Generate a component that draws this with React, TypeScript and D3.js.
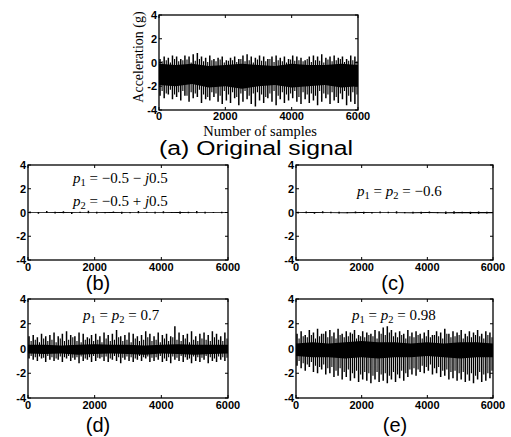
import React from "react";
import * as d3 from "d3";

// sample axis and amplitude axis ticks
const xTicks = [0, 2000, 4000, 6000];
const yTicks = [-4, -2, 0, 2, 4];
const coreSamples = [0, 500, 1000, 1500, 2000, 2500, 3000, 3500, 4000, 4500, 5000, 5500, 6000];

// (a) original signal: big spike peaks/troughs, smaller in-between spikes, dense core band
const aUp = [0.3, 0.5, 0.4, 0.6, 0.5, 0.3, 0.6, 0.5, 0.7, 0.8, 0.5, 0.4, 0.6, 0.3, 0.4, 0.5, 0.2, 0.4, 0.5, 0.3, 0.6, 0.7, 0.5, 0.4, 0.6, 0.5, 0.3, 0.5, 0.6, 0.4, 0.5, 0.3, 0.6, 0.5, 0.4, 0.2, 0.5, 0.6, 0.5, 0.7, 0.4, 0.5, 0.6, 0.4, 0.5, 0.3, 0.6, 0.5];
const aDown = [-2.8, -3.0, -2.7, -3.1, -2.9, -3.2, -2.8, -3.3, -3.0, -2.9, -3.4, -3.1, -3.2, -2.9, -3.3, -3.5, -3.2, -3.4, -3.0, -3.6, -3.3, -3.1, -3.5, -3.7, -3.2, -3.4, -3.0, -3.3, -3.6, -3.1, -3.4, -3.2, -3.0, -3.3, -3.5, -3.1, -3.4, -3.2, -3.6, -3.3, -3.0, -3.5, -3.2, -3.4, -3.1, -3.6, -3.3, -3.5];
const aMidUp = [0.1, 0.2, 0.0, 0.3, 0.1, 0.2, 0.25, 0.0, 0.15, 0.3, 0.1, 0.05, 0.2, 0.1, 0.25, 0.0, 0.15, 0.2, 0.05, 0.3, 0.1, 0.2, 0.0, 0.25, 0.15, 0.1, 0.3, 0.05, 0.2, 0.1, 0.0, 0.25, 0.15, 0.2, 0.1, 0.3, 0.05, 0.2, 0.15, 0.0, 0.25, 0.1, 0.2, 0.3, 0.05, 0.15, 0.2, 0.1];
const aMidDown = [-2.4, -2.6, -2.3, -2.7, -2.5, -2.4, -2.8, -2.5, -2.6, -2.3, -2.7, -2.9, -2.5, -2.6, -2.8, -2.4, -2.7, -2.5, -2.9, -2.6, -2.4, -2.8, -2.6, -2.5, -2.7, -2.9, -2.6, -2.4, -2.8, -2.5, -2.7, -2.6, -2.4, -2.9, -2.5, -2.7, -2.6, -2.8, -2.4, -2.6, -2.7, -2.5, -2.9, -2.6, -2.4, -2.8, -2.5, -2.7];
const aCoreHi = [-0.1, -0.2, -0.1, -0.3, -0.2, -0.1, -0.2, -0.3, -0.1, -0.2, -0.2, -0.1, -0.2];
const aCoreLo = [-1.9, -2.0, -1.8, -2.1, -2.0, -2.2, -2.0, -1.9, -2.1, -2.0, -1.9, -2.1, -2.0];

// (b) p1 = -0.5 - j0.5, p2 = -0.5 + j0.5
const bUp = [0.08, 0.05, 0.12, 0.06, 0.1, 0.05, 0.07, 0.15, 0.06, 0.05, 0.09, 0.06, 0.05, 0.12, 0.07, 0.06, 0.1, 0.05, 0.08, 0.06, 0.12, 0.07, 0.05, 0.06];
const bDown = [-0.06, -0.1, -0.05, -0.08, -0.06, -0.12, -0.05, -0.07, -0.09, -0.06, -0.05, -0.1, -0.07, -0.06, -0.05, -0.09, -0.06, -0.05, -0.1, -0.07, -0.06, -0.08, -0.05, -0.06];
const bCoreHi = [0.03, 0.03, 0.04, 0.03, 0.03, 0.04, 0.03, 0.03, 0.03, 0.04, 0.03, 0.03, 0.03];
const bCoreLo = [-0.04, -0.04, -0.05, -0.04, -0.04, -0.05, -0.04, -0.04, -0.04, -0.05, -0.04, -0.04, -0.04];

// (c) p1 = p2 = -0.6
const cUp = [0.06, 0.08, 0.05, 0.1, 0.06, 0.07, 0.05, 0.09, 0.06, 0.05, 0.08, 0.06, 0.1, 0.05, 0.07, 0.06, 0.09, 0.05, 0.08, 0.1, 0.06, 0.07, 0.09, 0.06];
const cDown = [-0.08, -0.06, -0.1, -0.07, -0.06, -0.09, -0.07, -0.06, -0.1, -0.08, -0.06, -0.07, -0.09, -0.06, -0.08, -0.1, -0.07, -0.06, -0.12, -0.1, -0.07, -0.12, -0.1, -0.09];
const cCoreHi = [0.03, 0.04, 0.03, 0.03, 0.04, 0.03, 0.03, 0.03, 0.04, 0.03, 0.04, 0.04, 0.04];
const cCoreLo = [-0.05, -0.05, -0.05, -0.06, -0.05, -0.05, -0.05, -0.06, -0.05, -0.06, -0.07, -0.07, -0.07];

// (d) p1 = p2 = 0.7
const dUp = [1.0, 1.1, 0.9, 1.2, 1.0, 1.1, 1.3, 1.0, 1.2, 1.4, 1.1, 1.0, 1.3, 1.2, 0.9, 1.1, 1.2, 1.0, 1.3, 1.1, 1.2, 1.5, 1.0, 1.1, 1.3, 1.2, 1.0, 1.1, 1.4, 1.2, 1.0, 1.3, 1.1, 1.2, 1.0, 1.8, 1.3, 1.1, 1.2, 1.4, 1.0, 1.2, 1.3, 1.1, 1.4, 1.2, 1.0, 1.3];
const dDown = [-0.8, -0.9, -1.0, -0.8, -1.1, -0.9, -1.0, -0.9, -1.1, -0.8, -1.0, -0.9, -1.2, -1.0, -0.9, -1.1, -1.0, -0.8, -1.0, -1.1, -0.9, -1.0, -1.2, -0.9, -1.0, -1.1, -0.9, -1.0, -0.8, -1.1, -1.0, -0.9, -1.1, -1.0, -1.2, -0.9, -1.0, -1.1, -0.9, -1.2, -1.0, -1.1, -0.9, -1.2, -1.0, -1.1, -0.9, -1.0];
const dMidUp = [0.6, 0.7, 0.5, 0.8, 0.6, 0.7, 0.5, 0.8, 0.6, 0.7, 0.9, 0.6, 0.5, 0.7, 0.8, 0.6, 0.7, 0.5, 0.8, 0.6, 0.7, 0.9, 0.6, 0.7, 0.5, 0.8, 0.6, 0.7, 0.9, 0.6, 0.7, 0.5, 0.8, 0.6, 0.9, 0.7, 0.6, 0.8, 0.5, 0.7, 0.6, 0.8, 0.7, 0.6, 0.9, 0.7, 0.6, 0.8];
const dMidDown = [-0.6, -0.7, -0.65, -0.75, -0.6, -0.7, -0.8, -0.65, -0.7, -0.6, -0.75, -0.7, -0.65, -0.8, -0.7, -0.6, -0.75, -0.7, -0.65, -0.8, -0.6, -0.7, -0.75, -0.65, -0.7, -0.8, -0.6, -0.7, -0.65, -0.75, -0.7, -0.6, -0.8, -0.7, -0.65, -0.75, -0.6, -0.7, -0.8, -0.65, -0.7, -0.75, -0.6, -0.7, -0.8, -0.65, -0.7, -0.75];
const dCoreHi = [0.3, 0.3, 0.25, 0.3, 0.35, 0.3, 0.3, 0.25, 0.3, 0.35, 0.3, 0.3, 0.3];
const dCoreLo = [-0.4, -0.45, -0.4, -0.5, -0.45, -0.4, -0.45, -0.5, -0.4, -0.45, -0.5, -0.45, -0.4];

// (e) p1 = p2 = 0.98
const eUp = [1.2, 1.4, 1.1, 1.5, 1.3, 1.6, 1.2, 1.4, 1.5, 1.3, 1.6, 1.2, 1.4, 1.3, 1.5, 1.1, 1.4, 1.3, 1.2, 1.5, 1.4, 1.7, 1.8, 1.5, 1.3, 1.4, 1.2, 1.5, 1.3, 1.4, 1.2, 1.3, 1.5, 1.1, 1.4, 1.3, 1.6, 1.2, 1.4, 1.3, 1.5, 1.2, 1.4, 1.3, 1.5, 1.2, 1.4, 1.3];
const eDown = [-1.4, -1.6, -1.8, -1.5, -1.9, -2.0, -1.7, -2.1, -2.0, -2.3, -2.2, -2.5, -2.3, -2.6, -2.4, -2.7, -2.5, -2.6, -2.8, -2.5, -2.7, -2.6, -2.8, -2.5, -2.7, -2.4, -2.6, -2.3, -2.1, -2.2, -1.9, -2.0, -1.8, -2.1, -2.0, -2.3, -2.2, -2.5, -2.4, -2.6, -2.5, -2.7, -2.6, -2.8, -2.5, -2.7, -2.6, -2.4];
const eMidUp = [0.8, 1.0, 0.9, 1.1, 0.8, 1.0, 1.2, 0.9, 1.0, 0.8, 1.1, 0.9, 1.0, 1.2, 0.8, 1.0, 0.9, 1.1, 1.0, 0.8, 1.2, 1.1, 1.3, 1.0, 0.9, 1.1, 0.8, 1.0, 0.9, 1.1, 0.8, 1.0, 0.9, 1.1, 1.0, 0.8, 1.2, 0.9, 1.0, 1.1, 0.8, 1.0, 0.9, 1.1, 1.0, 0.8, 1.1, 0.9];
const eMidDown = [-1.0, -1.2, -1.3, -1.1, -1.4, -1.5, -1.3, -1.6, -1.5, -1.8, -1.6, -1.9, -1.7, -2.0, -1.8, -2.1, -1.9, -2.0, -2.2, -1.9, -2.1, -2.0, -2.2, -1.9, -2.1, -1.8, -2.0, -1.7, -1.6, -1.7, -1.4, -1.5, -1.3, -1.6, -1.5, -1.8, -1.7, -1.9, -1.8, -2.0, -1.9, -2.1, -2.0, -2.2, -1.9, -2.1, -2.0, -1.8];
const eCoreHi = [0.4, 0.5, 0.4, 0.5, 0.6, 0.5, 0.5, 0.4, 0.5, 0.4, 0.5, 0.5, 0.4];
const eCoreLo = [-0.6, -0.7, -0.7, -0.8, -0.7, -0.8, -0.7, -0.7, -0.6, -0.7, -0.8, -0.7, -0.7];

const tickFont = "Liberation Sans, Arial, sans-serif";
const serif = "Liberation Serif, Times New Roman, serif";

type PanelProps = {
  x0: number; x1: number; y0: number; y1: number;
  up: number[]; down: number[]; midUp: number[]; midDown: number[];
  coreHi: number[]; coreLo: number[];
  labelGap?: number;
};

function spikePath(x: d3.ScaleLinear<number, number>, y: d3.ScaleLinear<number, number>, up: number[], down: number[], shift: number) {
  const n = up.length;
  return up.map((u, i) => {
    const s = ((i + shift) * 6000) / n;
    return `M${x(s)},${y(u)}L${x(s)},${y(down[i])}`;
  }).join("");
}

function Panel({ x0, x1, y0, y1, up, down, midUp, midDown, coreHi, coreLo, labelGap = 11 }: PanelProps) {
  const x = d3.scaleLinear().domain([0, 6000]).range([x0, x1]);
  const y = d3.scaleLinear().domain([-4, 4]).range([y1, y0]);
  const core = d3.area<number>()
    .x((d, i) => x(coreSamples[i]))
    .y0((d, i) => y(coreLo[i]))
    .y1((d) => y(d));
  return (
    <g>
      <path d={core(coreHi) || ""} fill="#000" />
      <path d={spikePath(x, y, midUp, midDown, 0.75)} stroke="#000" strokeWidth={1.1} fill="none" />
      <path d={spikePath(x, y, up, down, 0.25)} stroke="#000" strokeWidth={1.5} fill="none" />
      <rect x={x0} y={y0} width={x1 - x0} height={y1 - y0} fill="none" stroke="#000" strokeWidth={1.3} />
      {yTicks.map((t) => (
        <g key={"y" + t}>
          <line x1={x0} x2={x0 + 3} y1={y(t)} y2={y(t)} stroke="#000" />
          <line x1={x1} x2={x1 - 3} y1={y(t)} y2={y(t)} stroke="#000" />
          <text x={x0 - 2} y={y(t) + 4} textAnchor="end" fontFamily={tickFont} fontSize={11} fontWeight="bold">{t}</text>
        </g>
      ))}
      {xTicks.map((t) => (
        <g key={"x" + t}>
          <line x1={x(t)} x2={x(t)} y1={y1} y2={y1 - 3} stroke="#000" />
          <line x1={x(t)} x2={x(t)} y1={y0} y2={y0 + 3} stroke="#000" />
          <text x={x(t)} y={y1 + labelGap} textAnchor="middle" fontFamily={tickFont} fontSize={11} fontWeight="bold">{t}</text>
        </g>
      ))}
    </g>
  );
}

function P({ i }: { i: number }) {
  return (
    <>
      <tspan fontStyle="italic">p</tspan>
      <tspan fontSize={10.5} dy={3}>{i}</tspan>
      <tspan dy={-3}> </tspan>
    </>
  );
}

export default function App() {
  return (
    <svg width={511} height={437} style={{ position: "absolute", left: 0, top: 0, background: "#fff" }}>
      <Panel x0={159} x1={358} y0={15} y1={110} up={aUp} down={aDown} midUp={aMidUp} midDown={aMidDown} coreHi={aCoreHi} coreLo={aCoreLo} labelGap={10} />
      <text transform="translate(143,57) rotate(-90)" textAnchor="middle" fontFamily={serif} fontSize={14}>Acceleration (g)</text>
      <text x={260} y={135.5} textAnchor="middle" fontFamily={serif} fontSize={14.5}>Number of samples</text>
      <text x={256} y={155} textAnchor="middle" fontFamily={tickFont} fontSize={20} textLength={194} lengthAdjust="spacingAndGlyphs">(a) Original signal</text>

      <Panel x0={28} x1={228} y0={165} y1={260} up={bUp} down={bDown} midUp={[]} midDown={[]} coreHi={bCoreHi} coreLo={bCoreLo} />
      <text x={73} y={183} fontFamily={serif} fontSize={15}><P i={1} />= −0.5 − <tspan fontStyle="italic">j</tspan>0.5</text>
      <text x={73} y={206} fontFamily={serif} fontSize={15}><P i={2} />= −0.5 + <tspan fontStyle="italic">j</tspan>0.5</text>
      <text x={98} y={290} textAnchor="middle" fontFamily={tickFont} fontSize={20}>(b)</text>

      <Panel x0={296} x1={493} y0={165} y1={260} up={cUp} down={cDown} midUp={[]} midDown={[]} coreHi={cCoreHi} coreLo={cCoreLo} />
      <text x={357} y={196} fontFamily={serif} fontSize={15}><P i={1} />= <P i={2} />= −0.6</text>
      <text x={393} y={290} textAnchor="middle" fontFamily={tickFont} fontSize={20}>(c)</text>

      <Panel x0={28} x1={228} y0={299} y1={398} up={dUp} down={dDown} midUp={dMidUp} midDown={dMidDown} coreHi={dCoreHi} coreLo={dCoreLo} />
      <text x={83} y={320} fontFamily={serif} fontSize={15}><P i={1} />= <P i={2} />= 0.7</text>
      <text x={98} y={432} textAnchor="middle" fontFamily={tickFont} fontSize={20}>(d)</text>

      <Panel x0={296} x1={493} y0={299} y1={398} up={eUp} down={eDown} midUp={eMidUp} midDown={eMidDown} coreHi={eCoreHi} coreLo={eCoreLo} />
      <text x={352} y={320} fontFamily={serif} fontSize={15}><P i={1} />= <P i={2} />= 0.98</text>
      <text x={395} y={432} textAnchor="middle" fontFamily={tickFont} fontSize={20}>(e)</text>
    </svg>
  );
}
